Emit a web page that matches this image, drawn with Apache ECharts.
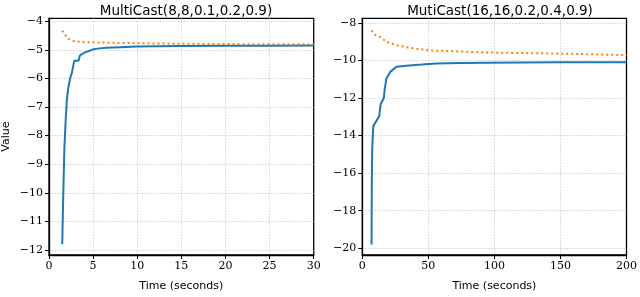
<!DOCTYPE html>
<html><head><meta charset="utf-8">
<script src="https://cdn.jsdelivr.net/npm/echarts@6/dist/echarts.min.js"></script>
<style>html,body{margin:0;padding:0;background:#fff}#c{width:640px;height:297px}</style>
</head><body><div id="c"></div>
<script>
// Left panel data
const titleLeft = 'MultiCast(8,8,0.1,0.2,0.9)';
const leftBlueT = [1.5, 1.62, 1.74, 1.9, 2.03, 2.2, 2.41, 2.6, 2.86, 3.35, 3.5, 3.62, 4.0, 4.37, 4.7, 5.05, 5.5, 6.5, 8, 10, 15, 20, 25, 30];
const leftBlueV = [-11.8, -10.0, -8.47, -7.4, -6.73, -6.3, -5.98, -5.8, -5.38, -5.38, -5.2, -5.15, -5.1, -5.06, -5.02, -4.98, -4.96, -4.93, -4.91, -4.89, -4.87, -4.86, -4.86, -4.85];
const leftOrangeT = [1.5, 1.8, 2.2, 2.7, 3.5, 5, 8, 10, 12, 15, 20, 25, 30];
const leftOrangeV = [-4.33, -4.47, -4.62, -4.69, -4.72, -4.74, -4.76, -4.77, -4.78, -4.79, -4.8, -4.81, -4.81];
// Right panel data
const titleRight = 'MutiCast(16,16,0.2,0.4,0.9)';
const rightBlueT = [7.0, 7.2, 7.5, 8.3, 10, 12.8, 13.8, 16.3, 17, 18.3, 21.3, 25.9, 33.4, 45, 55.9, 75, 93.5, 120, 150, 200];
const rightBlueV = [-19.8, -16.5, -14.72, -13.5, -13.3, -12.97, -12.35, -12.0, -11.5, -10.95, -10.6, -10.34, -10.28, -10.22, -10.16, -10.14, -10.12, -10.11, -10.1, -10.1];
const rightOrangeT = [7, 9.5, 14.5, 18.3, 25.9, 35.9, 51, 68.5, 93.6, 120, 143.7, 170, 200];
const rightOrangeV = [-8.4, -8.63, -8.79, -9.02, -9.19, -9.33, -9.47, -9.51, -9.58, -9.61, -9.63, -9.67, -9.72];
// Axis settings
const xLeft = [0, 30, 5];
const xRight = [0, 200, 50];
const yLeft = [-12.175, -3.9];
const yRight = [-20.36, -7.76];
const xName = 'Time (seconds)';
const yName = 'Value';

const pair = (t, v) => t.map((x, i) => [x, v[i]]);
const minus = v => (v < 0 ? '\u2212' + Math.abs(v) : String(v));
const serif = 'DejaVu Serif';
const sans = 'DejaVu Sans';
const gridLine = {show: true, showMinLine: false, showMaxLine: false, lineStyle: {color: '#c8c8c8', type: [1.5, 1.5], width: 0.8}};

function xAxis(idx, r) {
  return {
    type: 'value', gridIndex: idx, min: r[0], max: r[1], interval: r[2],
    name: xName, nameLocation: 'middle', nameGap: 26,
    nameTextStyle: {fontFamily: sans, fontSize: 11, color: '#000'},
    axisLine: {show: true, onZero: false, lineStyle: {color: '#000', width: 1.3}},
    axisTick: {show: true, length: 4, inside: false, lineStyle: {color: '#000'}},
    axisLabel: {fontFamily: serif, fontSize: 11, color: '#000', margin: 6, formatter: minus},
    splitLine: gridLine
  };
}
function yAxis(idx, r, split, name) {
  return {
    type: 'value', gridIndex: idx, min: r[0], max: r[1], splitNumber: split,
    name: name, nameLocation: 'middle', nameGap: 37, nameRotate: 90,
    nameTextStyle: {fontFamily: sans, fontSize: 11, color: '#000'},
    axisLine: {show: true, onZero: false, lineStyle: {color: '#000', width: 1.3}},
    axisTick: {show: true, length: 4, inside: false, lineStyle: {color: '#000'}},
    axisLabel: {fontFamily: serif, fontSize: 11, color: '#000', margin: 6, showMinLabel: false, showMaxLabel: false, formatter: minus},
    splitLine: gridLine
  };
}
function blue(idx, d) {
  return {type: 'line', xAxisIndex: idx, yAxisIndex: idx, data: d, showSymbol: false, silent: true,
    lineStyle: {color: '#1f77b4', width: 2}, z: 3};
}
function orange(idx, d) {
  return {type: 'line', xAxisIndex: idx, yAxisIndex: idx, data: d, showSymbol: false, silent: true,
    lineStyle: {color: '#ff7f0e', width: 2, type: [2, 3], cap: 'butt'}, z: 4};
}

const chart = echarts.init(document.getElementById('c'), null, {renderer: 'canvas'});
chart.setOption({
  animation: false,
  backgroundColor: '#fff',
  title: [
    {text: titleLeft, left: 181, top: -1, textAlign: 'center', textStyle: {fontFamily: sans, fontSize: 13.5, fontWeight: 'normal', color: '#000'}},
    {text: titleRight, left: 495, top: -1, textAlign: 'center', textStyle: {fontFamily: sans, fontSize: 13.5, fontWeight: 'normal', color: '#000'}}
  ],
  grid: [
    {left: 48.7, right: 326.3, top: 18.3, bottom: 40.3, show: true, borderColor: '#000', borderWidth: 1.3, backgroundColor: 'transparent'},
    {left: 362.3, right: 11.7, top: 18.3, bottom: 40.3, show: true, borderColor: '#000', borderWidth: 1.3, backgroundColor: 'transparent'}
  ],
  xAxis: [xAxis(0, xLeft), xAxis(1, xRight)],
  yAxis: [yAxis(0, yLeft, 8, yName), yAxis(1, yRight, 6, '')],
  series: [
    blue(0, pair(leftBlueT, leftBlueV)),
    orange(0, pair(leftOrangeT, leftOrangeV)),
    blue(1, pair(rightBlueT, rightBlueV)),
    orange(1, pair(rightOrangeT, rightOrangeV))
  ]
});
</script></body></html>
